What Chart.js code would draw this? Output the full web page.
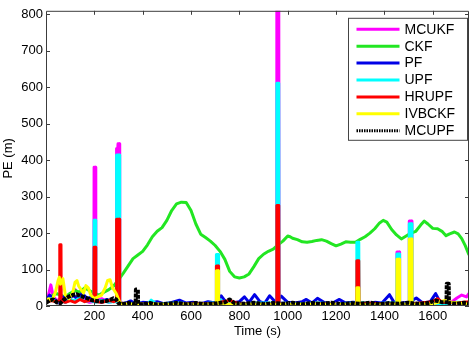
<!DOCTYPE html>
<html>
<head>
<meta charset="utf-8">
<script src="https://cdn.jsdelivr.net/npm/chart.js@4/dist/chart.umd.min.js"></script>
<style>
html, body { margin: 0; padding: 0; background: #fff; }
#wrap { width: 474px; height: 341px; }
</style>
</head>
<body>
<div id="wrap"><canvas id="peChart"></canvas></div>
<script>
const seriesNames = ["MCUKF", "CKF", "PF", "UPF", "HRUPF", "IVBCKF", "MCUPF"];
const seriesColors = ["#ff00ff", "#22e622", "#0000e6", "#00ffff", "#ff0000", "#ffff00", "#000000"];
const xTicks = [200, 400, 600, 800, 1000, 1200, 1400, 1600];
const yTicks = [0, 100, 200, 300, 400, 500, 600, 700, 800];

// [time (s), PE (m)]
const mcukf = [[0,10],[10,30],[20,58],[30,25],[45,15],[60,20],[80,10],[100,20],[120,45],[140,30],
  [160,15],[180,10],[198,12],[199,381],[205,381],[206,15],[230,20],[260,10],[280,15],[291,12],
  [292,432],[297,432],[298,445],[304,445],[305,10],[340,5],[400,4],[500,6],[600,4],[700,8],
  [800,5],[900,6],[954,6],[955,900],[963,900],[964,8],[1050,5],[1150,4],[1250,6],[1350,5],
  [1420,6],[1451,6],[1452,148],[1462,148],[1463,6],[1502,5],[1503,233],[1513,233],[1514,6],[1580,5],
  [1640,8],[1680,12],[1700,22],[1720,30],[1740,25],[1750,35]];

const ckf = [[0,20],[20,25],[40,35],[60,30],[80,25],[100,35],[120,42],[140,38],[160,50],[180,42],
  [200,35],[220,30],[240,38],[260,45],[280,55],[300,72],[320,90],[340,110],[360,130],[380,140],
  [400,150],[420,168],[440,190],[460,205],[480,215],[500,235],[520,262],[540,280],[560,285],[580,284],
  [600,262],[620,225],[640,197],[660,188],[680,178],[700,166],[720,150],[740,128],[760,95],[780,80],
  [800,77],[820,80],[840,88],[860,108],[880,130],[900,142],[920,150],[940,156],[960,168],[980,178],
  [1000,192],[1010,190],[1020,186],[1040,182],[1060,176],[1080,175],[1100,177],[1120,180],[1140,182],[1160,178],
  [1180,171],[1200,165],[1220,170],[1240,176],[1260,175],[1280,175],[1300,183],[1320,190],[1340,200],[1360,212],
  [1380,228],[1395,235],[1410,230],[1430,210],[1450,195],[1470,184],[1490,192],[1510,200],[1530,205],[1550,222],
  [1565,233],[1580,225],[1600,213],[1620,212],[1640,204],[1655,193],[1670,198],[1690,203],[1705,198],[1720,185],
  [1735,165],[1750,140]];

const pf = [[0,15],[15,30],[30,20],[50,10],[70,25],[90,15],[110,30],[130,20],[150,35],[170,20],
  [190,25],[210,15],[230,10],[250,18],[270,12],[290,15],[310,5],[330,8],[350,14],[370,6],
  [400,10],[430,8],[460,12],[490,6],[520,10],[552,16],[580,8],[610,10],[640,6],[670,12],
  [700,8],[725,28],[745,10],[770,8],[800,12],[821,25],[840,10],[863,31],[885,12],[905,8],
  [925,28],[950,10],[973,27],[1000,10],[1030,8],[1060,12],[1077,18],[1100,8],[1123,21],[1150,10],
  [1180,6],[1214,18],[1240,8],[1270,10],[1300,8],[1330,6],[1360,10],[1390,8],[1421,31],[1440,10],
  [1470,8],[1500,10],[1532,22],[1560,8],[1590,12],[1612,34],[1630,12],[1660,8],[1690,10],[1720,6],
  [1750,10]];

const upf = [[0,8],[20,20],[40,12],[60,15],[80,10],[100,18],[120,14],[140,22],[160,12],[180,15],
  [198,12],[199,235],[205,235],[206,10],[230,15],[260,10],[280,12],[291,12],[292,414],[304,414],
  [305,8],[340,6],[380,8],[420,5],[435,16],[455,6],[550,8],[620,5],[690,8],[704,8],
  [705,141],[713,141],[714,20],[740,8],[800,6],[880,8],[954,8],[955,611],[963,611],[964,8],
  [1050,6],[1120,8],[1200,6],[1285,8],[1286,175],[1294,175],[1295,10],[1350,6],[1420,8],[1451,8],
  [1452,143],[1462,143],[1463,6],[1502,6],[1503,226],[1513,226],[1514,6],[1580,8],[1650,6],[1700,10],
  [1750,8]];

const hrupf = [[0,10],[20,15],[40,12],[56,15],[57,168],[62,168],[63,15],[80,10],[100,15],[120,10],
  [140,18],[160,12],[180,15],[198,15],[199,161],[205,161],[206,12],[230,10],[260,15],[280,12],
  [291,15],[292,238],[304,238],[305,8],[340,5],[400,6],[500,5],[600,6],[704,6],[705,110],
  [713,110],[714,10],[760,15],[800,6],[900,5],[954,6],[955,276],[963,276],[964,6],[1050,5],
  [1150,6],[1250,5],[1285,6],[1286,124],[1294,124],[1295,8],[1400,6],[1500,5],[1600,12],[1620,20],
  [1640,10],[1700,8],[1750,12]];

const ivbckf = [[0,10],[10,20],[25,15],[40,40],[50,70],[55,79],[60,60],[70,75],[80,30],[95,20],
  [110,35],[120,65],[128,70],[135,55],[145,45],[155,35],[165,56],[175,50],[185,30],[200,20],
  [215,25],[230,30],[245,50],[255,70],[265,72],[275,50],[290,35],[305,10],[320,5],[400,5],
  [500,4],[600,5],[700,5],[704,8],[705,97],[713,97],[714,6],[800,4],[900,5],[1000,4],
  [1100,5],[1200,4],[1285,5],[1286,50],[1294,50],[1295,5],[1400,4],[1451,5],[1452,128],[1462,128],
  [1463,5],[1502,5],[1503,184],[1513,184],[1514,5],[1600,6],[1650,15],[1680,10],[1750,5]];

const mcupf = [[0,9],[15,15],[30,18],[45,10],[58,7],[75,18],[92,25],[110,30],[127,32],[140,28],
  [154,25],[168,22],[182,18],[196,15],[210,14],[230,12],[251,14],[265,17],[279,21],[290,18],
  [300,8],[315,5],[340,8],[360,6],[371,6],[372,45],[380,45],[381,6],[400,5],[430,8],
  [460,4],[500,6],[540,8],[580,5],[620,8],[660,5],[700,7],[740,10],[759,18],[780,8],
  [820,6],[860,9],[900,5],[940,8],[980,6],[1020,9],[1060,5],[1100,8],[1140,6],[1180,9],
  [1220,5],[1260,8],[1300,6],[1340,9],[1380,5],[1420,8],[1460,6],[1500,9],[1540,6],[1580,8],
  [1610,15],[1640,10],[1657,10],[1658,61],[1666,61],[1667,8],[1700,6],[1730,9],[1750,7]];

const seriesData = [mcukf, ckf, pf, upf, hrupf, ivbckf, mcupf];
const fontFamily = "'Liberation Sans', Arial, sans-serif";

// box, inward ticks and legend like the original figure
const matlabAxes = {
  id: 'matlabAxes',
  afterDatasetsDraw(chart) {
    const {ctx, chartArea: a, scales: {x, y}} = chart;
    ctx.save();
    ctx.strokeStyle = '#3c3c3c';
    ctx.lineWidth = 1;
    ctx.beginPath();
    xTicks.forEach(v => {
      const px = Math.round(x.getPixelForValue(v)) + 0.5;
      ctx.moveTo(px, a.bottom); ctx.lineTo(px, a.bottom - 4);
      ctx.moveTo(px, a.top); ctx.lineTo(px, a.top + 4);
    });
    yTicks.forEach(v => {
      const py = Math.round(y.getPixelForValue(v)) + 0.5;
      ctx.moveTo(a.left, py); ctx.lineTo(a.left + 4, py);
      ctx.moveTo(a.right, py); ctx.lineTo(a.right - 4, py);
    });
    ctx.rect(a.left + 0.5, a.top + 0.5, a.right - a.left - 1, a.bottom - a.top - 1);
    ctx.stroke();

    // legend
    const bx = a.right - 120.5, by = a.top + 7.5, bw = 119, bh = 122;
    ctx.fillStyle = '#fff';
    ctx.fillRect(bx, by, bw, bh);
    ctx.strokeStyle = '#444';
    ctx.strokeRect(bx, by, bw, bh);
    ctx.font = '14px ' + fontFamily;
    ctx.textBaseline = 'middle';
    seriesNames.forEach((name, i) => {
      const ly = by + 11 + i * 16.9;
      ctx.beginPath();
      ctx.strokeStyle = seriesColors[i];
      ctx.lineWidth = 3;
      ctx.setLineDash(i === 6 ? [1.5, 1] : []);
      ctx.moveTo(bx + 8, ly);
      ctx.lineTo(bx + 51, ly);
      ctx.stroke();
      ctx.setLineDash([]);
      ctx.fillStyle = '#000';
      ctx.fillText(name, bx + 56, ly + 0.5);
    });
    ctx.restore();
  }
};

new Chart(document.getElementById('peChart'), {
  type: 'line',
  data: {
    datasets: seriesNames.map((name, i) => ({
      label: name,
      data: seriesData[i].map(([t, v]) => ({x: t, y: v})),
      borderColor: seriesColors[i],
      backgroundColor: seriesColors[i],
      borderWidth: i === 6 ? 4 : 3,
      borderDash: i === 6 ? [4, 1] : [],
      borderJoinStyle: 'round',
      pointRadius: 0,
      tension: 0,
      fill: false,
      clip: 0,
      order: 6 - i
    }))
  },
  options: {
    responsive: true,
    maintainAspectRatio: false,
    animation: false,
    layout: { padding: { top: 4, right: 5, left: 0, bottom: 0 } },
    plugins: { legend: { display: false }, tooltip: { enabled: false } },
    scales: {
      x: {
        type: 'linear',
        min: 0,
        max: 1750,
        grid: { display: false, drawTicks: false },
        border: { display: false },
        afterBuildTicks: s => { s.ticks = xTicks.map(v => ({value: v})); },
        afterFit: s => { s.height = 35; },
        ticks: { padding: 3, color: '#000', font: { size: 13, family: fontFamily }, maxRotation: 0, callback: v => String(v) },
        title: { display: true, text: 'Time (s)', color: '#000', font: { size: 13, family: fontFamily }, padding: { top: 0, bottom: 2 } }
      },
      y: {
        min: 0,
        max: 810,
        grid: { display: false, drawTicks: false },
        border: { display: false },
        afterBuildTicks: s => { s.ticks = yTicks.map(v => ({value: v})); },
        afterFit: s => { s.width = 46; },
        ticks: { padding: 3, color: '#000', font: { size: 13, family: fontFamily }, callback: v => String(v) },
        title: { display: true, text: 'PE (m)', color: '#000', font: { size: 13, family: fontFamily }, padding: { top: 1, bottom: 0 } }
      }
    }
  },
  plugins: [matlabAxes]
});
</script>
</body>
</html>
